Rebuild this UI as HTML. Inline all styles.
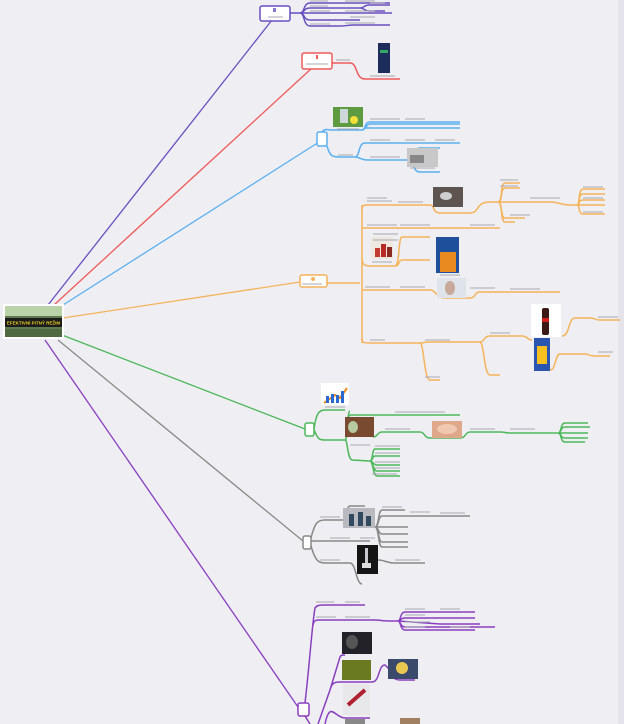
<!DOCTYPE html>
<html><head><meta charset="utf-8"><style>
html,body{margin:0;padding:0;background:#eeeef3;}
svg{display:block}
text{font-family:"Liberation Sans",sans-serif}
</style></head><body>
<svg width="624" height="724" viewBox="0 0 624 724" xmlns="http://www.w3.org/2000/svg">
<rect width="624" height="724" fill="#eeeef3"/>
<rect x="618" y="0" width="6" height="724" fill="#e4e4ea"/>
<g fill="none" stroke-width="1.3">
<path d="M48,305 L272,20" stroke="#6a4fc0"/>
<path d="M54,305 L312,68" stroke="#ef5a5a"/>
<path d="M63,305 L319,142" stroke="#5ab0f0"/>
<path d="M63,318 L300,282" stroke="#f5b35a"/>
<path d="M62,335 L305,429" stroke="#4cb85a"/>
<path d="M58,340 L303,541" stroke="#8a8a8a"/>
<path d="M45,340 L298,707" stroke="#8a3fc0"/>
</g>
<rect x="3" y="304" width="61" height="35" fill="#fff"/>
<rect x="5" y="306" width="57" height="31" fill="#5f7a50"/>
<rect x="5" y="306" width="57" height="10" fill="#b9d2a8"/>
<rect x="5" y="318" width="57" height="9" fill="#1c1c1c"/>
<text x="33.5" y="324.5" font-size="4.5" font-weight="bold" fill="#e8d020" text-anchor="middle">EFEKTIVNÍ PITNÝ REŽIM</text>
<rect x="5" y="329" width="57" height="8" fill="#4f6a40"/>

<g fill="none" stroke="#6a4fc0" stroke-width="1.5">
<rect x="260" y="6" width="30" height="15" rx="2" fill="#fff" stroke-width="1.5"/>
<path d="M290,13 L300,13"/>
<path d="M300,13 C305,13 303,3 310,3 L330,3 M330,3 L390,3"/>
<path d="M300,13 C305,13 303,8 310,8 L330,8 L360,8 C365,8 363,5 370,5 L390,5 M360,8 C365,8 363,11 370,11 L385,11"/>
<path d="M300,13 L340,13 L392,13"/>
<path d="M300,13 C305,13 303,20 310,20 L340,20 L360,20"/>
<path d="M300,13 C305,13 303,26 310,26 L340,26 C345,26 348,25 355,25 L390,25"/>
</g>
<g stroke="#a8a8b0" stroke-width="1.1"><path d="M268,17h15M310,1h18M345,1h30M310,6h18M370,3h15M310,11h20M345,11h30M350,17h25M310,24h20M345,23h30"/></g>
<rect x="273" y="8" width="3" height="4" fill="#8a7ad8"/>

<g fill="none" stroke="#ef5a5a" stroke-width="1.5">
<rect x="302" y="53" width="30" height="16" rx="2" fill="#fff" stroke-width="1.5"/>
<path d="M332,63 L350,63 C358,63 355,79 365,79 L400,79"/>
</g>
<rect x="378" y="43" width="12" height="30" fill="#1d2c5a"/>
<rect x="380" y="50" width="8" height="3" fill="#3a6"/>
<g stroke="#a8a8b0" stroke-width="1.1"><path d="M306,64h22M336,60h14M370,76h25"/></g>
<rect x="316" y="55" width="2" height="4" fill="#ef5a5a"/>

<g fill="none" stroke="#5ab0f0" stroke-width="1.5">
<rect x="317" y="132" width="10" height="14" rx="2" fill="#fff" stroke-width="1.5"/>
<path d="M322,132 C325,128 328,130 333,130 L362,130 C366,130 364,122 370,122 L460,122"/>
<path d="M362,130 C366,130 366,124 370,124 L410,124 L460,124"/>
<path d="M364,128 L380,128 L460,128"/>
<path d="M327,146 C330,157 333,157 340,157 L355,157 C360,157 358,143 365,143 L460,143"/>
<path d="M355,157 C360,157 360,160 368,160 L408,160 C415,160 412,148 420,148 L440,148 M408,160 C415,160 412,172 420,172 L440,172"/>
</g>
<rect x="333" y="107" width="30" height="20" fill="#5e9a40"/>
<rect x="340" y="109" width="8" height="14" fill="#cfd8d8"/>
<circle cx="354" cy="120" r="4" fill="#f3e03a"/>
<rect x="407" y="148" width="31" height="19" fill="#c8c8c8"/>
<rect x="410" y="155" width="14" height="8" fill="#888"/>
<g stroke="#a8a8b0" stroke-width="1.1"><path d="M370,119h30M405,119h20M337,129h22M338,155h15M370,140h20M405,140h20M435,140h20M370,157h30M410,168h25"/></g>

<g fill="none" stroke="#f5b35a" stroke-width="1.5">
<rect x="300" y="275" width="27" height="12" rx="2" fill="#fff" stroke-width="1.5"/>
<path d="M327,283 L360,283"/>
<path d="M362,205 L362,343"/>
<path d="M362,210 C362,205 364,205 368,205 L395,205 L430,205 C435,205 432,213 440,213 L460,213 L470,213 C480,213 475,202 490,202 L498,202"/>
<path d="M498,202 C503,202 500,183 505,183 L520,183 M498,202 C503,202 500,188 505,188 L520,188 M498,202 L530,202 L550,202 C560,202 560,205 570,205 L580,205 M498,202 C503,202 500,218 505,218 L525,218 M498,202 C503,202 500,222 505,222 L515,222"/>
<path d="M577,205 C580,205 578,189 583,189 L605,189 M577,205 C580,205 578,194 583,194 L605,194 M577,205 L605,205 M577,205 C580,205 578,214 583,214 L605,214 M577,205 C580,205 578,200 583,200 L605,200"/>
<path d="M362,228 L390,228 L470,228 L500,228"/>
<path d="M362,258 C362,264 364,266 370,266 L395,266 C400,266 398,260 402,260 L430,260 M395,266 C400,266 398,237 402,237 L430,237"/>
<path d="M362,290 L395,290 L430,290 C436,290 436,298 445,298 L470,298 C476,298 474,292 480,292 L500,292 L560,292"/>
<path d="M362,338 C362,343 364,343 370,343 L420,343 C425,343 423,342 430,342 L480,342 C485,342 483,336 490,336 L500,336 L522,336 C528,336 527,340 532,340"/>
<path d="M420,343 C424,343 424,380 430,380 L440,380"/>
<path d="M480,342 C484,342 484,375 490,375 L500,375"/>
<path d="M562,336 C570,336 568,318 575,318 L590,318 C596,318 594,320 600,320 L620,320"/>
<path d="M550,370 C556,370 555,354 560,354 L585,354 C590,354 588,356 595,356 L610,356"/>
</g>
<rect x="433" y="187" width="30" height="20" fill="#5e5450"/>
<ellipse cx="446" cy="196" rx="6" ry="4" fill="#cfcfcf"/>
<rect x="371" y="237" width="22" height="22" fill="#eee8e0"/>
<rect x="375" y="248" width="5" height="9" fill="#c43a30"/><rect x="381" y="244" width="5" height="13" fill="#b82a25"/><rect x="387" y="247" width="5" height="10" fill="#8a2a20"/>
<rect x="436" y="237" width="23" height="36" fill="#1e4f9a"/>
<rect x="440" y="252" width="16" height="20" fill="#e88a20"/>
<rect x="437" y="278" width="29" height="20" fill="#dfe3ea"/>
<ellipse cx="450" cy="288" rx="5" ry="7" fill="#c9a89a"/>
<rect x="531" y="304" width="30" height="33" fill="#fff"/>
<rect x="542" y="308" width="7" height="27" rx="2" fill="#3a1a14"/>
<rect x="542" y="318" width="7" height="4" fill="#d02020"/>
<rect x="534" y="338" width="16" height="33" fill="#2a55b0"/>
<rect x="537" y="346" width="10" height="18" fill="#f5c020"/>
<g stroke="#a8a8b0" stroke-width="1.1"><path d="M367,198h20M367,201h25M398,202h25M500,180h18M500,186h18M530,198h30M510,215h20M583,187h20M583,198h20M583,212h20M367,225h30M400,225h30M470,225h25M373,234h25M373,240h25M372,262h20M440,275h20M365,287h25M400,287h25M470,288h25M510,289h30M370,340h15M425,340h25M490,333h20M598,317h20M598,352h15M425,377h15M302,284h20"/></g>
<circle cx="313" cy="279" r="2" fill="#f5b35a"/>

<g fill="none" stroke="#4cb85a" stroke-width="1.5">
<rect x="305" y="423" width="9" height="13" rx="2" fill="#fff" stroke-width="1.5"/>
<path d="M314,429 C316,415 318,410 325,410 L345,410"/>
<path d="M314,430 C318,438 318,440 325,440 L345,440"/>
<path d="M345,440 C348,440 347,415 350,415 L417,415 L420,415 L460,415"/>
<path d="M345,440 C348,440 347,411 350,411"/>
<path d="M373,437 C378,437 377,432 382,432 L420,432 C425,432 424,438 430,438 L460,438 C466,438 465,432 470,432 L500,432 C505,432 505,433 510,433 L530,433 C540,433 540,433 550,433 L560,433"/>
<path d="M558,433 C562,433 560,423 565,423 L588,423 M558,433 C562,433 560,427 565,427 L590,427 M558,433 L588,433 M558,433 C562,433 560,438 565,438 L588,438 M558,433 C562,433 560,442 565,442 L585,442"/>
<path d="M345,440 C348,440 347,458 352,460 L370,461"/>
<path d="M370,461 C373,461 372,449 375,449 L400,449 M370,461 C373,461 372,456 375,456 L400,456 M370,461 C373,461 373,465 377,465 L400,465 M370,461 C373,461 373,471 377,471 L400,471 M370,461 C373,461 373,476 377,476 L400,476"/>
</g>
<rect x="321" y="383" width="28" height="22" fill="#fff"/>
<path d="M324,403 L335,395 L340,398 L347,388" stroke="#f08a20" stroke-width="2" fill="none"/>
<rect x="326" y="396" width="3" height="7" fill="#2a6ad0"/><rect x="331" y="394" width="3" height="9" fill="#2a6ad0"/><rect x="336" y="395" width="3" height="8" fill="#2a6ad0"/><rect x="341" y="391" width="3" height="12" fill="#2a6ad0"/>
<rect x="345" y="417" width="29" height="20" fill="#7a4a30"/>
<ellipse cx="353" cy="427" rx="5" ry="6" fill="#b8c8a0"/>
<rect x="432" y="421" width="30" height="17" fill="#e0a88a"/>
<ellipse cx="447" cy="429" rx="10" ry="5" fill="#f0c8b0"/>
<g stroke="#a8a8b0" stroke-width="1.1"><path d="M325,407h20M395,412h25M420,412h25M385,429h25M470,429h25M510,429h25M350,445h20M375,446h25M375,453h25M375,462h25M375,468h25M372,474h25"/></g>

<g fill="none" stroke="#888" stroke-width="1.5">
<rect x="303" y="536" width="8" height="13" rx="2" fill="#fff" stroke-width="1.5"/>
<path d="M311,538 C315,522 318,520 325,520 L343,520"/>
<path d="M343,520 C347,520 346,506 350,506 L365,506"/>
<path d="M375,527 C379,527 378,510 382,510 L405,510 M375,527 C379,527 378,516 382,516 L405,516 L440,516 L470,516 M375,527 L408,527 M375,527 C379,527 378,534 382,534 L408,534 M375,527 C379,527 378,542 382,542 L408,542 M375,527 C379,527 378,547 382,547 L408,547"/>
<path d="M311,541 L330,541 L370,541"/>
<path d="M311,546 C315,560 318,563 325,563 L350,563 C356,563 356,584 362,584"/>
<path d="M378,560 C385,560 386,563 395,563 L425,563"/>
</g>
<rect x="343" y="508" width="32" height="20" fill="#b9b9c0"/>
<rect x="349" y="514" width="5" height="12" fill="#324a60"/><rect x="358" y="512" width="5" height="14" fill="#324a60"/><rect x="366" y="516" width="5" height="10" fill="#324a60"/>
<rect x="357" y="545" width="21" height="29" fill="#151515"/>
<rect x="365" y="548" width="3" height="18" fill="#c8c8d0"/>
<rect x="362" y="563" width="9" height="5" fill="#ddd"/>
<g stroke="#a8a8b0" stroke-width="1.1"><path d="M320,517h20M382,507h20M410,512h20M440,513h25M330,538h20M360,538h15M320,560h20M395,560h25"/></g>

<g fill="none" stroke="#8a3fc0" stroke-width="1.5">
<rect x="298" y="703" width="11" height="13" rx="2" fill="#fff" stroke-width="1.5"/>
<path d="M305,703 C310,660 312,625 315,608 C317,605 320,605 325,605 L340,605 L365,605"/>
<path d="M313,625 C314,620 316,620 320,620 L345,620 L375,620 C380,620 382,621 390,621 L400,621"/>
<path d="M398,621 C401,621 400,612 405,612 L430,612 C436,612 435,612 440,612 L475,612 M398,621 C401,621 400,618 405,618 L440,618 L475,618 M398,621 L440,624 L480,624 M398,621 C401,621 400,630 405,630 L440,630 L475,630 M398,621 C401,621 400,627 405,627 L470,627 L495,627"/>
<path d="M318,724 L330,690 L340,657 C341,655 342,655 345,655 M330,690 C332,683 334,682 340,682 L372,682 C380,682 378,665 385,665 L390,670 C392,678 395,680 400,680 L415,680"/>
<path d="M325,724 C330,700 335,718 345,718 L370,718"/>
<path d="M305,716 L310,724"/>
</g>
<rect x="342" y="632" width="30" height="22" fill="#222228"/>
<ellipse cx="352" cy="642" rx="6" ry="7" fill="#555"/>
<rect x="342" y="660" width="29" height="20" fill="#6a7a20"/>
<rect x="388" y="659" width="30" height="20" fill="#3a4a6a"/>
<circle cx="402" cy="668" r="6" fill="#e8c850"/>
<rect x="343" y="684" width="27" height="31" fill="#e8e8ea"/>
<path d="M348,705 L365,690" stroke="#b02030" stroke-width="4"/>
<rect x="400" y="718" width="20" height="6" fill="#a08060"/>
<rect x="345" y="719" width="20" height="5" fill="#888"/>
<g stroke="#a8a8b0" stroke-width="1.1"><path d="M316,602h18M345,602h15M316,617h20M345,617h25M405,609h20M440,609h20M405,615h20M405,622h25M405,627h20M450,627h20"/></g>
</svg>
</body></html>
